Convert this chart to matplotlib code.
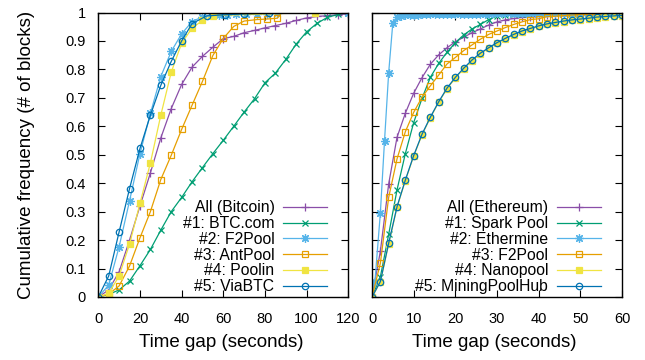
import matplotlib
matplotlib.use("Agg")
import matplotlib.pyplot as plt

plt.rcParams['font.family'] = ['Liberation Sans', 'DejaVu Sans']

# Bitcoin panel (time gap in seconds, cumulative fraction of blocks)
btc_x = [0, 5, 10, 15, 20, 25, 30, 35, 40, 45, 50, 55, 60, 65, 70, 75, 80,
         85, 90, 95, 100, 105, 110, 115, 120]
btc_all = [0, 0.025, 0.089, 0.2, 0.32, 0.436, 0.559, 0.662, 0.747, 0.808,
           0.846, 0.878, 0.908, 0.916, 0.929, 0.937, 0.946, 0.954, 0.962,
           0.972, 0.981, 0.986, 0.989, 0.992, 0.996]
btccom_y = [0, 0.009, 0.025, 0.056, 0.11, 0.167, 0.235, 0.3, 0.35, 0.405,
            0.455, 0.504, 0.551, 0.6, 0.65, 0.697, 0.753, 0.787, 0.835,
            0.889, 0.932, 0.962, 0.983, 0.993, 1.0]
f2pool_btc_x = [0, 5, 10, 15, 20, 25, 30, 35, 40, 45, 50, 54, 58, 62, 66,
                71, 76, 81, 86, 120]
f2pool_btc_y = [0, 0.042, 0.177, 0.338, 0.504, 0.645, 0.775, 0.863, 0.925,
                0.968, 0.985, 0.99, 0.991, 0.992, 0.993, 0.994, 0.995, 0.996,
                0.997, 1.0]
antpool_x = [0, 5, 10, 15, 20, 25, 30, 35, 40, 45, 50, 55, 60, 65, 70, 76,
             81, 86, 88]
antpool_y = [0, 0.01, 0.039, 0.109, 0.208, 0.3, 0.413, 0.498, 0.589, 0.674,
             0.758, 0.849, 0.909, 0.951, 0.97, 0.975, 0.977, 0.98, 1.0]
poolin_x = [0, 5, 10, 15, 20, 25, 30, 35, 40, 45, 50, 55, 104]
poolin_y = [0, 0.013, 0.074, 0.186, 0.329, 0.471, 0.639, 0.79, 0.892, 0.945,
            0.972, 0.989, 1.0]
viabtc_x = [0, 5, 10, 15, 20, 25, 30, 35, 40, 45, 52, 61, 70, 82]
viabtc_y = [0, 0.074, 0.229, 0.381, 0.522, 0.639, 0.744, 0.828, 0.9, 0.961,
            0.988, 0.992, 0.995, 0.998]

# Ethereum panel
eth_x = [0, 2, 4, 6, 8, 10, 12, 14, 16, 18, 20, 22, 24, 26, 28, 30, 32, 34,
         36, 38, 40, 42, 44, 46, 48, 50, 52, 54, 56, 58, 60]
eth_all = [0, 0.16, 0.397, 0.561, 0.646, 0.716, 0.771, 0.818, 0.851, 0.876,
           0.897, 0.913, 0.929, 0.942, 0.956, 0.967, 0.974, 0.979, 0.983,
           0.985, 0.988, 0.99, 0.992, 0.993, 0.994, 0.995, 0.996, 0.997,
           0.998, 0.999, 1.0]
spark_y = [0, 0.07, 0.22, 0.376, 0.504, 0.613, 0.698, 0.772, 0.821, 0.86,
           0.894, 0.921, 0.942, 0.958, 0.975, 0.988, 0.991, 0.993, 0.994,
           0.995, 0.996, 0.997, 0.997, 0.998, 0.998, 0.999, 0.999, 0.999,
           1.0, 1.0, 1.0]
ethermine_x = [0, 0.7, 2, 3, 4, 5, 6, 7, 8, 9, 10, 11, 12, 13, 14, 15, 16,
               17, 18, 19, 20, 21, 22, 23, 24, 25, 26, 27, 28, 29, 30, 31,
               32, 33, 34, 35, 36, 37, 38, 39, 40, 41, 42, 43, 44, 45, 46,
               47, 48, 49, 50, 51, 52, 53, 54, 55, 56, 57, 58, 59, 60]
ethermine_y = [0, 0.054, 0.294, 0.548, 0.788, 0.964, 0.985, 0.988, 0.99,
               0.991, 0.992, 0.992, 0.993, 0.993, 0.993, 0.994, 0.994, 0.994,
               0.994, 0.995, 0.995, 0.995, 0.995, 0.995, 0.996, 0.996, 0.996,
               0.996, 0.996, 0.997, 0.997, 0.997, 0.997, 0.997, 0.997, 0.998,
               0.998, 0.998, 0.998, 0.998, 0.998, 0.998, 0.999, 0.999, 0.999,
               0.999, 0.999, 0.999, 0.999, 0.999, 0.999, 0.999, 1.0, 1.0,
               1.0, 1.0, 1.0, 1.0, 1.0, 1.0, 1.0]
f2pool_eth_y = [0, 0.118, 0.35, 0.485, 0.581, 0.649, 0.702, 0.742, 0.78,
                0.819, 0.842, 0.866, 0.886, 0.906, 0.923, 0.935, 0.947,
                0.958, 0.967, 0.975, 0.978, 0.985, 0.987, 0.989, 0.991,
                0.993, 0.994, 0.995, 0.996, 0.997, 0.998]
nanopool_y = [0, 0.052, 0.186, 0.315, 0.409, 0.495, 0.57, 0.63, 0.684,
              0.732, 0.77, 0.802, 0.831, 0.855, 0.874, 0.892, 0.907, 0.921,
              0.933, 0.942, 0.951, 0.958, 0.963, 0.968, 0.972, 0.975, 0.978,
              0.982, 0.984, 0.986, 0.988]
mph_y = [0, 0.054, 0.189, 0.317, 0.411, 0.497, 0.572, 0.632, 0.686, 0.734,
         0.772, 0.804, 0.833, 0.857, 0.876, 0.894, 0.909, 0.923, 0.935,
         0.944, 0.953, 0.96, 0.965, 0.97, 0.974, 0.977, 0.98, 0.984, 0.986,
         0.988, 0.99]

btc_labels = ['All (Bitcoin)', '#1: BTC.com', '#2: F2Pool', '#3: AntPool',
              '#4: Poolin', '#5: ViaBTC']
eth_labels = ['All (Ethereum)', '#1: Spark Pool', '#2: Ethermine',
              '#3: F2Pool', '#4: Nanopool', '#5: MiningPoolHub']

purple = '#8a4ea8'
green = '#009E73'
lblue = '#56B4E9'
orange = '#E69F00'
yellow = '#F0E442'
blue = '#0072B2'

fig = plt.figure(figsize=(6.45, 3.6), dpi=100)
ax1 = fig.add_axes([98.3 / 645, 63 / 360, 250 / 645, 284.5 / 360])
ax2 = fig.add_axes([372 / 645, 63 / 360, 250 / 645, 284.5 / 360])

lw = 0.9
ms = 4.6
star = (8, 2, 0)
common = dict(lw=lw, mew=0.9)

ax1.plot(btc_x, btc_all, color=purple, marker='+', ms=ms + 1.5, label=btc_labels[0], **common)
ax1.plot(btc_x, btccom_y, color=green, marker='x', ms=ms, label=btc_labels[1], **common)
ax1.plot(f2pool_btc_x, f2pool_btc_y, color=lblue, marker=star, ms=ms + 1.5, label=btc_labels[2], **common)
ax1.plot(antpool_x, antpool_y, color=orange, marker='s', mfc='none', ms=ms,
         markevery=list(range(len(antpool_x) - 1)), label=btc_labels[3], **common)
ax1.plot(poolin_x, poolin_y, color=yellow, marker='s', ms=ms, label=btc_labels[4], **common)
ax1.plot(viabtc_x, viabtc_y, color=blue, marker='o', mfc='none', ms=ms, label=btc_labels[5], **common)

ax2.plot(eth_x, eth_all, color=purple, marker='+', ms=ms + 1.5, label=eth_labels[0], **common)
ax2.plot(eth_x, spark_y, color=green, marker='x', ms=ms, label=eth_labels[1], **common)
ax2.plot(ethermine_x, ethermine_y, color=lblue, marker=star, ms=ms + 1.5, label=eth_labels[2], **common)
ax2.plot(eth_x, f2pool_eth_y, color=orange, marker='s', mfc='none', ms=ms, label=eth_labels[3], **common)
ax2.plot(eth_x, nanopool_y, color=yellow, marker='s', ms=ms, label=eth_labels[4], **common)
ax2.plot(eth_x, mph_y, color=blue, marker='o', mfc='none', ms=ms, label=eth_labels[5], **common)

for ax, xmax, step in [(ax1, 120, 20), (ax2, 60, 10)]:
    ax.set_xlim(0, xmax)
    ax.set_ylim(0, 1)
    ax.set_xticks(range(0, xmax + 1, step))
    ax.set_yticks([i / 10 for i in range(11)])
    ax.tick_params(direction='in', top=True, right=True, length=5, width=0.8,
                   labelsize=10.5, pad=9)
    ax.tick_params(axis='x', pad=11)
    for s in ax.spines.values():
        s.set_linewidth(1.0)
    ax.set_xlabel('Time gap (seconds)', fontsize=13.5)
    ax.xaxis.set_label_coords(0.49, -0.13)
    ax.legend(loc='lower right', bbox_to_anchor=(0.915, 0.01), frameon=False,
              markerfirst=False, fontsize=11.3, borderpad=0, handlelength=2.8,
              handletextpad=0.55, labelspacing=0.05, borderaxespad=0)

ax1.set_yticklabels(['0', '0.1', '0.2', '0.3', '0.4', '0.5', '0.6', '0.7', '0.8', '0.9', '1'])
ax2.set_yticklabels([])
ax1.set_ylabel('Cumulative frequency (# of blocks)', fontsize=13.5)
ax1.yaxis.set_label_coords(-0.255, 0.5)

fig.savefig('out.png', dpi=100)
